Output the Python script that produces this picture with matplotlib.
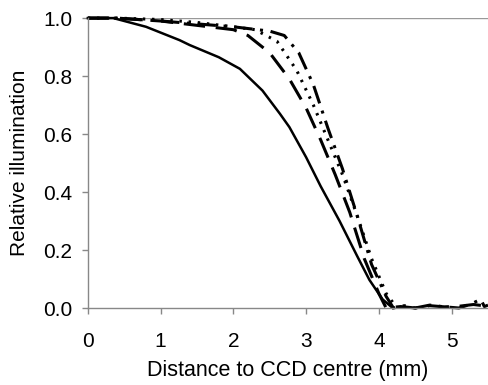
import matplotlib
matplotlib.use("Agg")
import matplotlib.pyplot as plt

plt.rcParams['font.family'] = ['Liberation Sans', 'DejaVu Sans']

# Solid curve
x_solid = [0.0, 0.35, 0.8, 1.26, 1.4, 1.8, 2.09, 2.4, 2.64, 2.77, 3.0, 3.2, 3.46, 3.7, 3.87, 4.05, 4.19]
y_solid = [1.0, 1.0, 0.97, 0.924, 0.907, 0.865, 0.825, 0.75, 0.67, 0.624, 0.52, 0.42, 0.30, 0.18, 0.097, 0.03, 0.0]

# Long dashed curve
x_dash = [0.0, 0.3, 0.4, 1.0, 1.5, 2.0, 2.2, 2.5, 2.77, 3.0, 3.2, 3.4, 3.6, 3.8, 4.0, 4.1, 4.3, 4.5, 4.7, 4.9, 5.1, 5.3, 5.5]
y_dash = [1.0, 1.0, 1.0, 0.99, 0.975, 0.96, 0.94, 0.88, 0.79, 0.69, 0.58, 0.46, 0.33, 0.17, 0.05, 0.0, 0.005, 0.0, 0.008, 0.004, 0.006, 0.012, 0.006]

# Dotted curve
x_dot = [0.0, 0.4, 1.0, 1.5, 2.0, 2.3, 2.6, 2.87, 3.1, 3.3, 3.5, 3.7, 3.9, 4.1, 4.25]
y_dot = [1.0, 1.0, 0.995, 0.985, 0.97, 0.96, 0.92, 0.82, 0.70, 0.58, 0.46, 0.32, 0.17, 0.05, 0.0]

# Dash-dot curve
x_dd = [0.0, 0.4, 1.0, 1.5, 2.0, 2.5, 2.7, 2.9, 3.1, 3.3, 3.5, 3.7, 3.9, 4.1, 4.2, 4.35, 4.5, 4.7, 4.9, 5.1, 5.25, 5.4, 5.45, 5.5]
y_dd = [1.0, 1.0, 0.99, 0.98, 0.97, 0.955, 0.94, 0.88, 0.77, 0.62, 0.48, 0.32, 0.15, 0.04, 0.0, 0.008, 0.0, 0.01, 0.004, 0.0, 0.012, 0.03, 0.005, 0.01]

x_ticks = [0, 1, 2, 3, 4, 5]
y_ticks = [0.0, 0.2, 0.4, 0.6, 0.8, 1.0]

fig = plt.figure(figsize=(4.88, 3.85), dpi=100)
ax = fig.add_axes([0.180, 0.20, 0.82, 0.753])

ax.plot(x_solid, y_solid, color='black', lw=1.8, clip_on=False)
ax.plot(x_dash, y_dash, color='black', lw=2.2, linestyle=(0, (7, 3.5)), clip_on=False)
ax.plot(x_dot, y_dot, color='black', lw=2.2, linestyle=(0, (0.8, 2.2)), clip_on=False)
ax.plot(x_dd, y_dd, color='black', lw=2.2, linestyle=(0, (6, 2.5, 1, 2.5)), clip_on=False)

ax.set_xlim(0, 5.5)
ax.set_ylim(0, 1.0)
ax.set_xticks(x_ticks)
ax.set_yticks(y_ticks)
ax.set_xticklabels([str(t) for t in x_ticks])
ax.set_yticklabels(['%.1f' % t for t in y_ticks])

ax.axhline(1.0, color='#999999', lw=1.0, zorder=0)
for s in ['right', 'top']:
    ax.spines[s].set_visible(False)
for s in ['left', 'bottom']:
    ax.spines[s].set_color('#888888')
    ax.spines[s].set_linewidth(1.0)
ax.tick_params(axis='both', colors='#888888', labelcolor='black', labelsize=15, length=4, width=1.0)
ax.tick_params(axis='y', pad=7)
ax.tick_params(axis='x', pad=13)

ax.set_xlabel('Distance to CCD centre (mm)', fontsize=15.5, labelpad=7)
ax.set_ylabel('Relative illumination', fontsize=15, labelpad=10)

fig.savefig('out.png', dpi=100)
